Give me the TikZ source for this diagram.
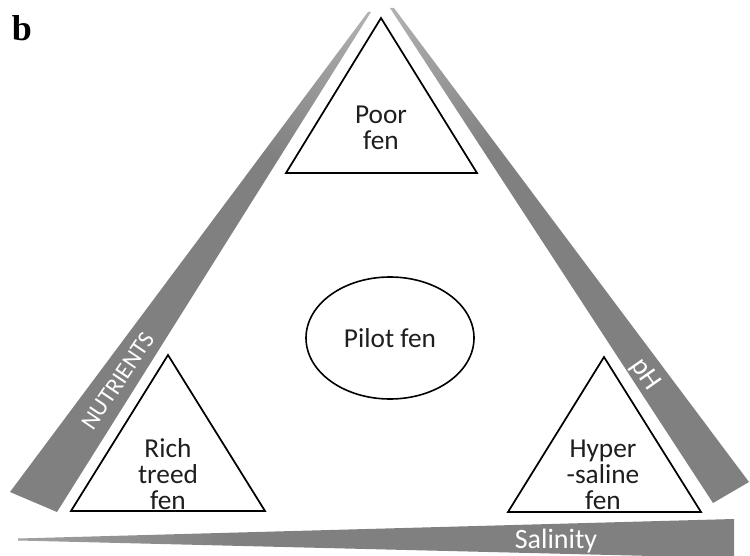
\documentclass[tikz,border=0pt]{standalone}
\usepackage{fontspec}
\setmainfont{Carlito}
\newfontfamily\panelfont{Liberation Serif}
\usetikzlibrary{shapes.geometric}
\definecolor{wedgegray}{RGB}{128,128,128}
\definecolor{textgray}{RGB}{30,30,30}
\pgfdeclareverticalshading{tipfade}{100bp}{color(0bp)=(wedgegray); color(65bp)=(wedgegray); color(100bp)=(wedgegray!30)}
\pgfdeclarehorizontalshading{salfade}{100bp}{color(0bp)=(wedgegray!30); color(40bp)=(wedgegray); color(100bp)=(wedgegray)}

\begin{document}
\begin{tikzpicture}[x=0.75pt,y=-0.75pt,
    fen/.style={draw=black,line width=1.3pt,line join=miter},
    fentext/.style={align=center,font=\fontsize{20.5}{19.5}\selectfont,text=textgray,inner sep=1pt},
    bartext/.style={font=\fontsize{21}{22}\selectfont,text=white,inner sep=1pt},
    wedge/.style={draw=none,shading=tipfade}
  ]
  \useasboundingbox (0,0) rectangle (750,556);

  % gradient bars
  \shade[wedge,shading angle=-34] (368,12) -- (371,12) -- (57,512) -- (10,492) -- cycle;
  \shade[wedge,shading angle=35] (390,8) -- (394,8) -- (749,482) -- (713,503) -- cycle;
  \shade[shading=salfade,draw=none] (18,538.5) -- (734,519) -- (734,558) -- (18,540.5) -- cycle;

  % fen types
  \draw[fen] (286,173) -- (381,18) -- (477,173) -- cycle;
  \draw[fen] (71,511) -- (168,355) -- (265,511) -- cycle;
  \draw[fen] (508,512) -- (604,357) -- (701,512) -- cycle;
  \node[draw,ellipse,line width=1.2pt,minimum width=126pt,minimum height=91.5pt,inner sep=0pt,
    font=\fontsize{20.5}{22}\selectfont,text=textgray] (pilot) at (390,338) {Pilot fen};

  \node[fentext] (poor) at (381,128) {Poor\\fen};
  \node[fentext] (rich) at (168,474) {Rich\\treed\\fen};
  \node[fentext] (hyper) at (603,475) {Hyper\\-saline\\fen};

  \node[bartext,font=\fontsize{18}{20}\selectfont,rotate=56] (nutrients) at (118,381) {NUTRIENTS};
  \node[bartext,rotate=-55] (ph) at (645,375) {pH};
  \node[bartext] (salinity) at (556,541) {Salinity};

  \node[font=\panelfont\bfseries\fontsize{27}{30}\selectfont] (panel) at (22,28) {b};
\end{tikzpicture}
\end{document}
